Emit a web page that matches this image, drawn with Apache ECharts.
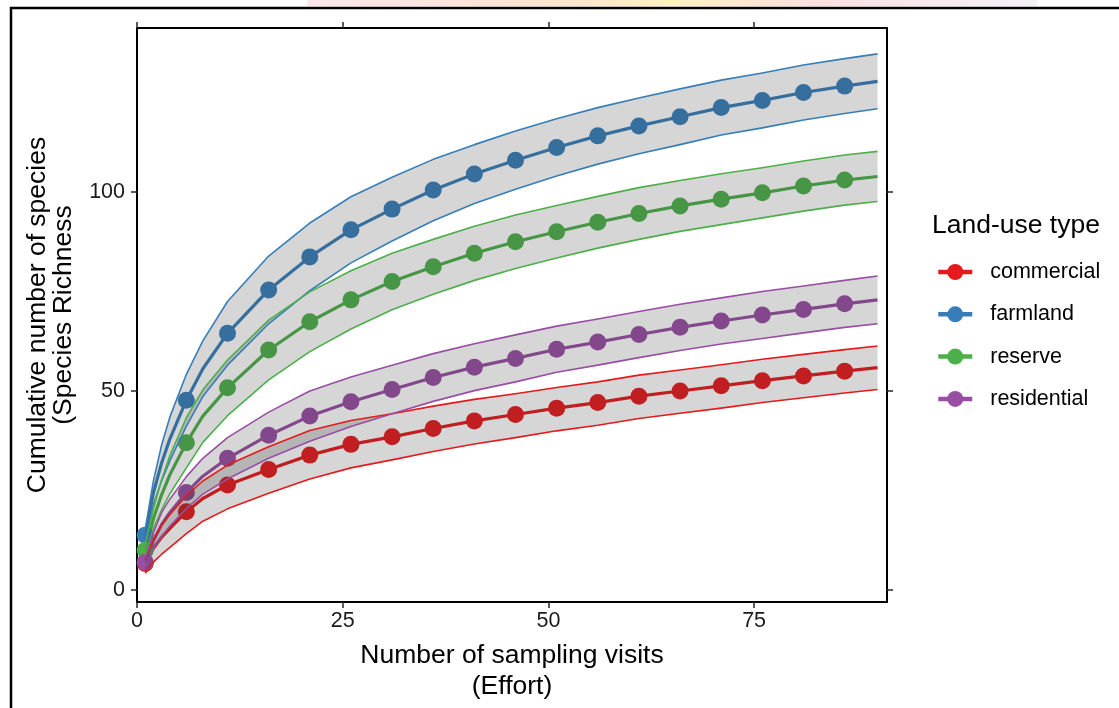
<!DOCTYPE html>
<html>
<head>
<meta charset="utf-8">
<script src="https://cdn.jsdelivr.net/npm/echarts@6/dist/echarts.min.js"></script>
<style>
  html, body { margin: 0; padding: 0; background: #fff; }
  #chart { width: 1119px; height: 708px; }
</style>
</head>
<body>
<div id="chart"></div>
<script>
// Sampling effort (number of visits) at which each curve is evaluated
const effort = [1, 2, 3, 4, 6, 8, 11, 16, 21, 26, 31, 36, 41, 46, 51, 56, 61, 66, 71, 76, 81, 86, 90];
// Efforts where a point marker is drawn
const markerEffort = [1, 6, 11, 16, 21, 26, 31, 36, 41, 46, 51, 56, 61, 66, 71, 76, 81, 86];

const landUse = ['commercial', 'farmland', 'reserve', 'residential'];
const palette = ['#E41A1C', '#377EB8', '#4DAF4A', '#984EA3'];

// Estimated species richness and 95% confidence limits
const commercialFit   = [6.7, 10.5, 13.3, 15.5, 19.7, 23.0, 26.4, 30.3, 33.9, 36.6, 38.5, 40.6, 42.5, 44.1, 45.7, 47.1, 48.7, 50.0, 51.3, 52.6, 53.8, 55.0, 55.9];
const commercialUpper = [7.9, 12.7, 16.3, 19.0, 23.7, 27.4, 31.4, 36.0, 40.1, 42.6, 44.3, 46.2, 47.9, 49.3, 50.9, 52.3, 54.0, 55.3, 56.6, 58.0, 59.2, 60.4, 61.3];
const commercialLower = [4.2, 7.0, 9.0, 10.7, 14.2, 17.3, 20.4, 24.3, 27.9, 30.7, 32.7, 34.8, 36.7, 38.3, 40.0, 41.4, 43.1, 44.4, 45.7, 47.1, 48.3, 49.5, 50.4];

const farmlandFit   = [13.8, 24.5, 32.0, 38.0, 47.7, 55.6, 64.5, 75.4, 83.7, 90.5, 95.7, 100.5, 104.5, 108.0, 111.2, 114.1, 116.6, 118.9, 121.2, 123.0, 125.0, 126.6, 127.8];
const farmlandUpper = [15.3, 27.5, 36.5, 43.5, 54.2, 62.6, 72.5, 83.9, 92.2, 98.8, 103.7, 108.2, 111.9, 115.3, 118.4, 121.2, 123.6, 125.9, 128.1, 129.9, 131.9, 133.5, 134.7];
const farmlandLower = [12.3, 21.5, 27.5, 32.5, 41.2, 48.6, 56.5, 66.9, 75.2, 82.2, 87.7, 92.8, 97.1, 100.7, 104.0, 107.0, 109.6, 111.9, 114.3, 116.1, 118.1, 119.7, 120.9];

const reserveFit   = [10.0, 18.0, 24.0, 29.0, 37.0, 43.7, 50.8, 60.3, 67.4, 72.9, 77.5, 81.2, 84.6, 87.5, 90.0, 92.4, 94.6, 96.5, 98.2, 99.8, 101.5, 103.0, 103.9];
const reserveUpper = [11.2, 20.5, 27.8, 33.8, 43.3, 50.3, 57.8, 67.8, 74.9, 80.2, 84.6, 88.1, 91.4, 94.2, 96.6, 98.9, 101.1, 102.9, 104.6, 106.1, 107.8, 109.3, 110.2];
const reserveLower = [8.8, 15.5, 20.2, 24.2, 30.7, 37.1, 43.8, 52.8, 59.9, 65.6, 70.4, 74.3, 77.8, 80.8, 83.4, 85.9, 88.1, 90.1, 91.8, 93.5, 95.2, 96.7, 97.6];

const residentialFit   = [7.0, 12.5, 16.5, 19.5, 24.5, 28.6, 33.1, 38.9, 43.7, 47.3, 50.4, 53.4, 56.0, 58.2, 60.5, 62.3, 64.2, 66.0, 67.6, 69.1, 70.5, 71.9, 72.9];
const residentialUpper = [8.0, 14.5, 19.5, 22.9, 28.5, 33.1, 38.3, 44.7, 50.0, 53.5, 56.5, 59.4, 61.9, 64.1, 66.3, 68.1, 70.0, 71.8, 73.4, 75.0, 76.4, 77.8, 78.9];
const residentialLower = [6.0, 10.5, 13.5, 16.1, 20.5, 24.1, 27.9, 33.1, 37.4, 41.1, 44.3, 47.4, 50.1, 52.3, 54.7, 56.5, 58.4, 60.2, 61.8, 63.2, 64.6, 66.0, 66.9];

const xTicks = [0, 25, 50, 75];
const yTicks = [0, 50, 100];

const groups = [
  { fit: commercialFit,  upper: commercialUpper,  lower: commercialLower },
  { fit: farmlandFit,    upper: farmlandUpper,    lower: farmlandLower },
  { fit: reserveFit,     upper: reserveUpper,     lower: reserveLower },
  { fit: residentialFit, upper: residentialUpper, lower: residentialLower }
];

const FONT = "'Liberation Sans', Arial, sans-serif";
const pairs = vals => effort.map((x, i) => [x, vals[i]]);

const series = [];
groups.forEach((g, k) => {
  const name = landUse[k];
  const color = palette[k];
  // fitted curve with markers (drawn beneath the confidence ribbon)
  series.push({
    name: name,
    type: 'line',
    z: 2,
    color: color,
    symbol: 'circle',
    symbolSize: 17,
    showSymbol: true,
    lineStyle: { color: color, width: 3.2, join: 'round' },
    itemStyle: { color: color },
    data: effort.map((x, i) => ({
      value: [x, g.fit[i]],
      symbol: markerEffort.includes(x) ? 'circle' : 'none'
    }))
  });
  // confidence ribbon: one polygon through the upper limits and back along the lower limits
  series.push({
    name: name + ' band',
    type: 'custom',
    z: 3,
    silent: true,
    data: effort.map((x, i) => [x, g.lower[i], g.upper[i]]),
    encode: { x: 0, y: [1, 2] },
    renderItem: (params, api) => {
      if (params.dataIndex !== 0) return null;
      const top = effort.map((x, i) => api.coord([x, g.upper[i]]));
      const bottom = effort.map((x, i) => api.coord([x, g.lower[i]])).reverse();
      return {
        type: 'polygon',
        shape: { points: top.concat(bottom) },
        style: { fill: 'rgba(51,51,51,0.2)', stroke: null }
      };
    }
  });
  // lower and upper confidence limits
  [['lower', g.lower], ['upper', g.upper]].forEach(([tag, vals]) => {
    series.push({
      name: name + ' ' + tag,
      type: 'line',
      z: 4,
      symbol: 'none',
      silent: true,
      lineStyle: { color: color, width: 1.6, join: 'round' },
      data: pairs(vals)
    });
  });
});

const axisLineStyle = { show: true, onZero: false, lineStyle: { color: '#000', width: 2 } };
const tickStyle = { length: 6, lineStyle: { color: '#333', width: 1.6 } };
const labelStyle = { color: '#1a1a1a', fontSize: 21.5, fontFamily: FONT };

const option = {
  animation: false,
  backgroundColor: '#fff',
  grid: { left: 137, right: 232, top: 28, bottom: 106, containLabel: false },
  xAxis: [
    {
      type: 'value', position: 'bottom', min: 0, max: 91.15,
      axisLine: axisLineStyle,
      axisTick: Object.assign({ show: true, customValues: xTicks }, tickStyle),
      axisLabel: Object.assign({ show: true, customValues: xTicks, margin: 8 }, labelStyle),
      splitLine: { show: false },
      name: 'Number of sampling visits\n(Effort)',
      nameLocation: 'middle',
      nameGap: 38,
      nameTextStyle: { color: '#000', fontSize: 26.5, fontFamily: FONT, lineHeight: 31 }
    },
    {
      type: 'value', position: 'top', min: 0, max: 91.15,
      axisLine: axisLineStyle,
      axisTick: Object.assign({ show: true, customValues: xTicks }, tickStyle),
      axisLabel: { show: false },
      splitLine: { show: false }
    }
  ],
  yAxis: [
    {
      type: 'value', position: 'left', min: -3, max: 141.2,
      axisLine: axisLineStyle,
      axisTick: Object.assign({ show: true, customValues: yTicks }, tickStyle),
      axisLabel: Object.assign({ show: true, customValues: yTicks, margin: 12 }, labelStyle),
      splitLine: { show: false },
      name: 'Cumulative number of species\n(Species Richness',
      nameLocation: 'middle',
      nameRotate: 90,
      nameGap: 60,
      nameTextStyle: { color: '#000', fontSize: 26.5, fontFamily: FONT, lineHeight: 26 }
    },
    {
      type: 'value', position: 'right', min: -3, max: 141.2,
      axisLine: axisLineStyle,
      axisTick: Object.assign({ show: true, customValues: yTicks }, tickStyle),
      axisLabel: { show: false },
      splitLine: { show: false }
    }
  ],
  legend: {
    data: landUse,
    orient: 'vertical',
    left: 936,
    top: 261,
    padding: 0,
    itemWidth: 34,
    itemHeight: 20,
    itemGap: 20.3,
    selectedMode: false,
    lineStyle: { width: 4.5 },
    textStyle: { color: '#000', fontSize: 21.5, lineHeight: 20, fontFamily: FONT, padding: [0, 0, 0, 13] }
  },
  graphic: [
    {
      type: 'rect', silent: true, z: -1,
      shape: { x: 307, y: 0, width: 730, height: 6 },
      style: {
        fill: new echarts.graphic.LinearGradient(0, 0, 1, 0, [
          { offset: 0, color: 'rgba(250,215,220,0.6)' },
          { offset: 0.35, color: 'rgba(252,225,200,0.9)' },
          { offset: 0.5, color: 'rgba(255,240,185,0.9)' },
          { offset: 0.7, color: 'rgba(250,215,215,0.8)' },
          { offset: 1, color: 'rgba(235,225,240,0.5)' }
        ])
      }
    },
    {
      type: 'rect', silent: true,
      shape: { x: 11, y: 8, width: 1200, height: 800 },
      style: { fill: 'none', stroke: '#000', lineWidth: 2.5 }
    },
    {
      type: 'text', silent: true,
      style: { x: 932, y: 226, text: 'Land-use type', fill: '#000', font: '26.5px ' + FONT, verticalAlign: 'middle' }
    }
  ],
  series: series
};

const chart = echarts.init(document.getElementById('chart'), null, { renderer: 'canvas' });
chart.setOption(option);
</script>
</body>
</html>
